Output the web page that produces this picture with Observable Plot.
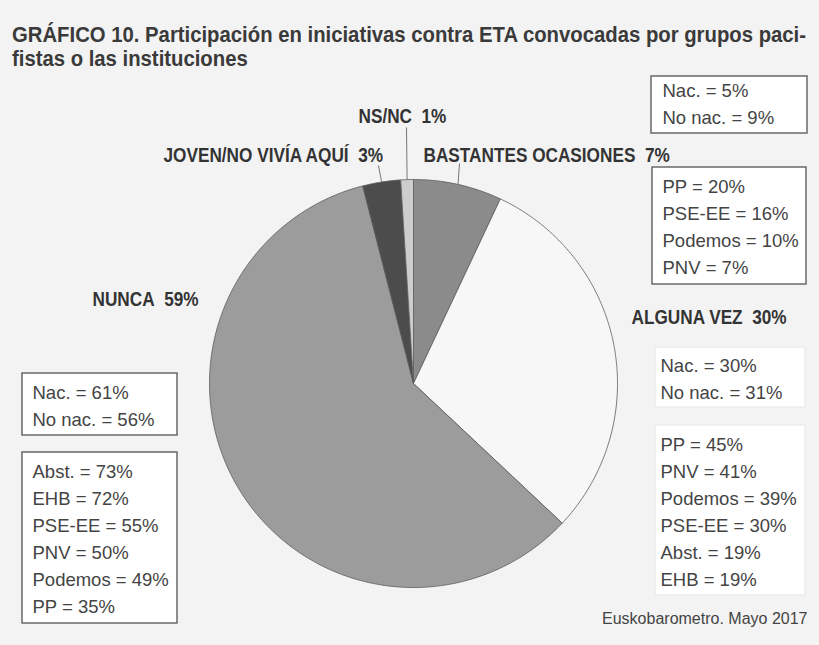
<!DOCTYPE html>
<html><head><meta charset="utf-8">
<script src="https://cdn.jsdelivr.net/npm/d3@7"></script>
<script src="https://cdn.jsdelivr.net/npm/@observablehq/plot@0.6"></script>
<style>
html,body{margin:0;padding:0;background:#f3f3f3;}
#wrap{width:819px;height:645px;position:relative;overflow:hidden;font-family:"Liberation Sans",Arial,sans-serif;}
#title{box-sizing:border-box;height:76px;padding:23px 0 0 12px;font-weight:bold;font-size:22px;line-height:24px;color:#3a3a3a;white-space:nowrap;}
#title span{display:inline-block;transform-origin:0 0;}
#chart svg{display:block;}
</style></head>
<body><div id="wrap"><div id="title"><span>GRÁFICO 10. Participación en iniciativas contra ETA convocadas por grupos paci-</span><br><span>fistas o las instituciones</span></div><div id="chart"></div></div>
<script>
// ---- data ----
const categories = ["BASTANTES OCASIONES", "ALGUNA VEZ", "NUNCA", "JOVEN/NO VIVÍA AQUÍ", "NS/NC"];
const values = [7, 30, 59, 3, 1];
const sliceColors = ["#8b8b8b", "#f7f7f7", "#9c9c9c", "#4c4c4c", "#cdcdcd"];

const bastantesNacLabels = ["Nac.", "No nac."];
const bastantesNacValues = [5, 9];
const bastantesPartyLabels = ["PP", "PSE-EE", "Podemos", "PNV"];
const bastantesPartyValues = [20, 16, 10, 7];
const algunaNacLabels = ["Nac.", "No nac."];
const algunaNacValues = [30, 31];
const algunaPartyLabels = ["PP", "PNV", "Podemos", "PSE-EE", "Abst.", "EHB"];
const algunaPartyValues = [45, 41, 39, 30, 19, 19];
const nuncaNacLabels = ["Nac.", "No nac."];
const nuncaNacValues = [61, 56];
const nuncaPartyLabels = ["Abst.", "EHB", "PSE-EE", "PNV", "Podemos", "PP"];
const nuncaPartyValues = [73, 72, 55, 50, 49, 35];
const source = "Euskobarometro. Mayo 2017";

// ---- layout (page pixels) ----
const W = 819, H = 645, TOP = 76, SVG_H = H - TOP;
const CX = 413, CY = 383, R = 204;
const X = px => (px - CX) / R;
const Y = py => (CY - py) / R;
const FONT = '"Liberation Sans",Arial,sans-serif';
const labelFont = 20, labelSqueeze = 0.86, boxFont = 18.5, lineGap = 27;
const titleWidth = 794;

const labelPos = {
  "BASTANTES OCASIONES": [423, 161],
  "ALGUNA VEZ": [631, 323],
  "NUNCA": [92, 305],
  "JOVEN/NO VIVÍA AQUÍ": [163, 161],
  "NS/NC": [358, 122]
};
const leaderEnds = {
  "BASTANTES OCASIONES": [459, 163],
  "JOVEN/NO VIVÍA AQUÍ": [378, 165],
  "NS/NC": [406, 127]
};

const boxes = [
  {labels: bastantesNacLabels, vals: bastantesNacValues, x1: 651, x2: 807, y1: 76, y2: 133, tx: 662, last: 123, border: true},
  {labels: bastantesPartyLabels, vals: bastantesPartyValues, x1: 652, x2: 806, y1: 167, y2: 284, tx: 662, last: 273, border: true},
  {labels: algunaNacLabels, vals: algunaNacValues, x1: 655, x2: 805, y1: 347, y2: 407, tx: 660, last: 398, border: false},
  {labels: algunaPartyLabels, vals: algunaPartyValues, x1: 655, x2: 805, y1: 425, y2: 595, tx: 660, last: 585, border: false},
  {labels: nuncaNacLabels, vals: nuncaNacValues, x1: 22, x2: 177, y1: 373, y2: 435, tx: 32, last: 425, border: true},
  {labels: nuncaPartyLabels, vals: nuncaPartyValues, x1: 22, x2: 177, y1: 452, y2: 623, tx: 32, last: 612, border: true}
];

// ---- build ----
const slices = categories.map((c, i) => ({c, value: values[i]}));
const arcs = d3.pie().sort(null).value(d => d.value)(slices);
const pieVerts = arcs.flatMap(a => {
  const n = Math.max(2, Math.ceil((a.endAngle - a.startAngle) / 0.01));
  const pts = [{c: a.data.c, x: 0, y: 0}];
  for (let k = 0; k <= n; k++) {
    const t = a.startAngle + (a.endAngle - a.startAngle) * k / n;
    pts.push({c: a.data.c, x: Math.sin(t), y: Math.cos(t)});
  }
  pts.push({c: a.data.c, x: 0, y: 0});
  return pts;
});
const leaders = arcs.filter(a => leaderEnds[a.data.c]).map(a => {
  const m = (a.startAngle + a.endAngle) / 2;
  const e = leaderEnds[a.data.c];
  return {x1: Math.sin(m), y1: Math.cos(m), x2: X(e[0]), y2: Y(e[1])};
});
const labels = slices.map(s => ({
  text: `${s.c}\u00a0 ${s.value}%`,
  x: X(labelPos[s.c][0]), y: Y(labelPos[s.c][1])
}));
const boxText = boxes.map(b => ({
  text: b.labels.map((l, i) => `${l} = ${b.vals[i]}%`).join("\n"),
  x: X(b.tx), y: Y(b.last)
}));

const chart = Plot.plot({
  width: W, height: SVG_H, margin: 0,
  x: {domain: [X(0), X(W)], range: [0, W], axis: null},
  y: {domain: [Y(H), Y(TOP)], range: [SVG_H, 0], axis: null},
  color: {domain: categories, range: sliceColors},
  style: {background: "transparent", fontFamily: FONT, overflow: "visible"},
  marks: [
    Plot.rect(boxes, {x1: d => X(d.x1), x2: d => X(d.x2), y1: d => Y(d.y1), y2: d => Y(d.y2),
      fill: "#ffffff", stroke: d => d.border ? "#5e5e5e" : "#ececec", strokeWidth: 1.4}),
    Plot.line(pieVerts, {x: "x", y: "y", z: "c", fill: "c", stroke: "#5a5a5a", strokeWidth: 0.8, strokeLinejoin: "round"}),
    Plot.link(leaders, {x1: "x1", y1: "y1", x2: "x2", y2: "y2", stroke: "#777", strokeWidth: 1}),
    Plot.text(labels, {x: "x", y: "y", text: "text", textAnchor: "start", lineAnchor: "bottom",
      fontSize: labelFont, fontWeight: "bold", fill: "#333"}),
    Plot.text(boxText, {x: "x", y: "y", text: "text", textAnchor: "start", lineAnchor: "bottom",
      fontSize: boxFont, lineHeight: lineGap / boxFont, fill: "#444"}),
    Plot.text([source], {x: X(807), y: Y(623), text: d => d, textAnchor: "end", lineAnchor: "bottom",
      fontSize: 16, fill: "#444"})
  ]
});
document.getElementById("chart").appendChild(chart);

// condensed look: squeeze the bold slice labels horizontally
const labelTexts = new Set(labels.map(d => d.text));
chart.querySelectorAll("text").forEach(t => {
  if (!labelTexts.has(t.textContent)) return;
  const w = t.getComputedTextLength();
  t.setAttribute("textLength", (w * labelSqueeze).toFixed(1));
  t.setAttribute("lengthAdjust", "spacingAndGlyphs");
});
// title: condensed to the reference width
const spans = document.querySelectorAll("#title span");
const f = titleWidth / spans[0].getBoundingClientRect().width;
spans.forEach(s => s.style.transform = `scaleX(${f})`);
</script>
</body></html>
